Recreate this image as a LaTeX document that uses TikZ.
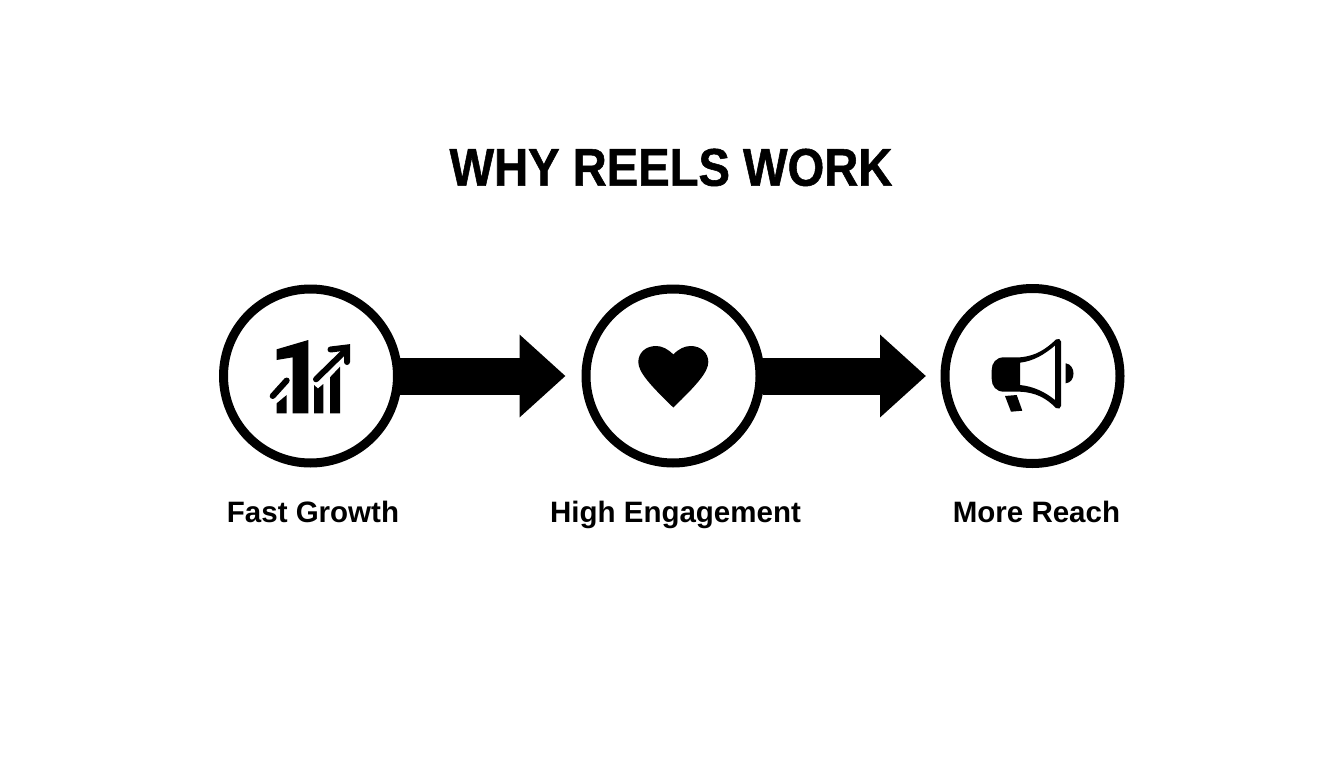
\documentclass[tikz,border=0pt]{standalone}
\usepackage{fontspec}
\setmainfont{Liberation Sans}
\newfontfamily\headfont[FakeStretch=0.89,BoldFeatures={FakeBold=1}]{Liberation Sans}
\usetikzlibrary{arrows.meta}
\tikzset{
  ring/.style={circle,draw=black,fill=white,line width=9pt,minimum size=174pt,inner sep=0pt},
  flow/.style={draw=black,line width=37pt,shorten <=-2pt,yshift=-0.8pt,-{Triangle[length=46pt,width=80pt]}},
  headline/.style={font=\headfont\fontsize{53}{60}\selectfont\bfseries,text=black,inner sep=0pt,anchor=base},
  caption/.style={font=\fontsize{29.5}{36}\selectfont\bfseries,text=black,inner sep=0pt,anchor=base},
  ink/.style={fill=black,draw=none},
  inkline/.style={draw=black,line width=6pt,line cap=round,line join=miter}
}
\begin{document}
\begin{tikzpicture}[x=1pt,y=-1pt]
\useasboundingbox[fill=white] (0,0) rectangle (1344,768);
\node[headline] (t) at (671,185.7) {WHY REELS WORK};
\node[ring] (c1) at (310.5,376) {};
\node[ring] (c2) at (673,376) {};
\node[ring,minimum size=175pt] (c3) at (1032.5,376) {};
\draw[flow,shorten >=16pt] (c1.east) -- (c2.west);
\draw[flow,shorten >=14.5pt] (c2.east) -- (c3.west);
\node[caption] (l1) at (313,522.7) {Fast Growth};
\node[caption] (l2) at (675.5,522.7) {High Engagement};
\node[caption] (l3) at (1036.5,522.7) {More Reach};
% growth icon
\fill[ink] (276.7,349.3) -- (308.3,340) -- (308.3,413.3) -- (292.7,413.3) -- (292.7,357.3) -- (276.7,360) -- cycle;
\fill[ink] (276.7,413.3) -- (286.7,413.3) -- (286.7,395) -- (276.7,403.3) -- cycle;
\draw[inkline] (272.7,396) -- (286.7,380.5);
\fill[ink] (314,413.3) -- (323.3,413.3) -- (323.3,384) -- (318,388.5) -- (314,385) -- cycle;
\fill[ink] (330,413.3) -- (340,413.3) -- (340,366.7) -- (330,377.3) -- cycle;
\draw[inkline] (316,379.3) -- (346,350);
\draw[inkline] (330.5,349.5) -- (347,347.5) -- (347,362);
% heart icon
\fill[ink] (673.3,354.5)
  .. controls (668,349) and (662,346) .. (656,346)
  .. controls (645.5,346) and (638.3,353) .. (638.3,362)
  .. controls (638.3,372) and (650,385) .. (673.3,407.5)
  .. controls (696.6,385) and (708.3,372) .. (708.3,362)
  .. controls (708.3,353) and (701.1,346) .. (690.6,346)
  .. controls (684.6,346) and (678.6,349) .. (673.3,354.5) -- cycle;
% megaphone icon
\fill[ink,even odd rule] (1004,357.3) -- (1020,357.3)
  .. controls (1036,356) and (1046,349) .. (1056,339.5)
  .. controls (1058,338) and (1061,339) .. (1061,341.5)
  -- (1061,406)
  .. controls (1061,408.5) and (1058,409.5) .. (1056,408)
  .. controls (1046,398) and (1036,392.5) .. (1020,391.7)
  -- (1004,391.7)
  .. controls (996,391.7) and (991.7,386) .. (991.7,379)
  -- (991.7,370)
  .. controls (991.7,363) and (996,357.3) .. (1004,357.3) -- cycle
  (1020,362.7)
  .. controls (1034,361) and (1045,354) .. (1055,345.5)
  -- (1055,400)
  .. controls (1045,392) and (1034,386.5) .. (1020,385) -- cycle;
\fill[ink] (1005,396) -- (1016.7,395) -- (1022.3,410.7) -- (1011,411.7) -- cycle;
\fill[ink] (1065.7,363.3) .. controls (1071,364) and (1073.5,369) .. (1073.5,373.5)
  .. controls (1073.5,378) and (1071,383) .. (1065.7,383.3) -- cycle;
\end{tikzpicture}
\end{document}
